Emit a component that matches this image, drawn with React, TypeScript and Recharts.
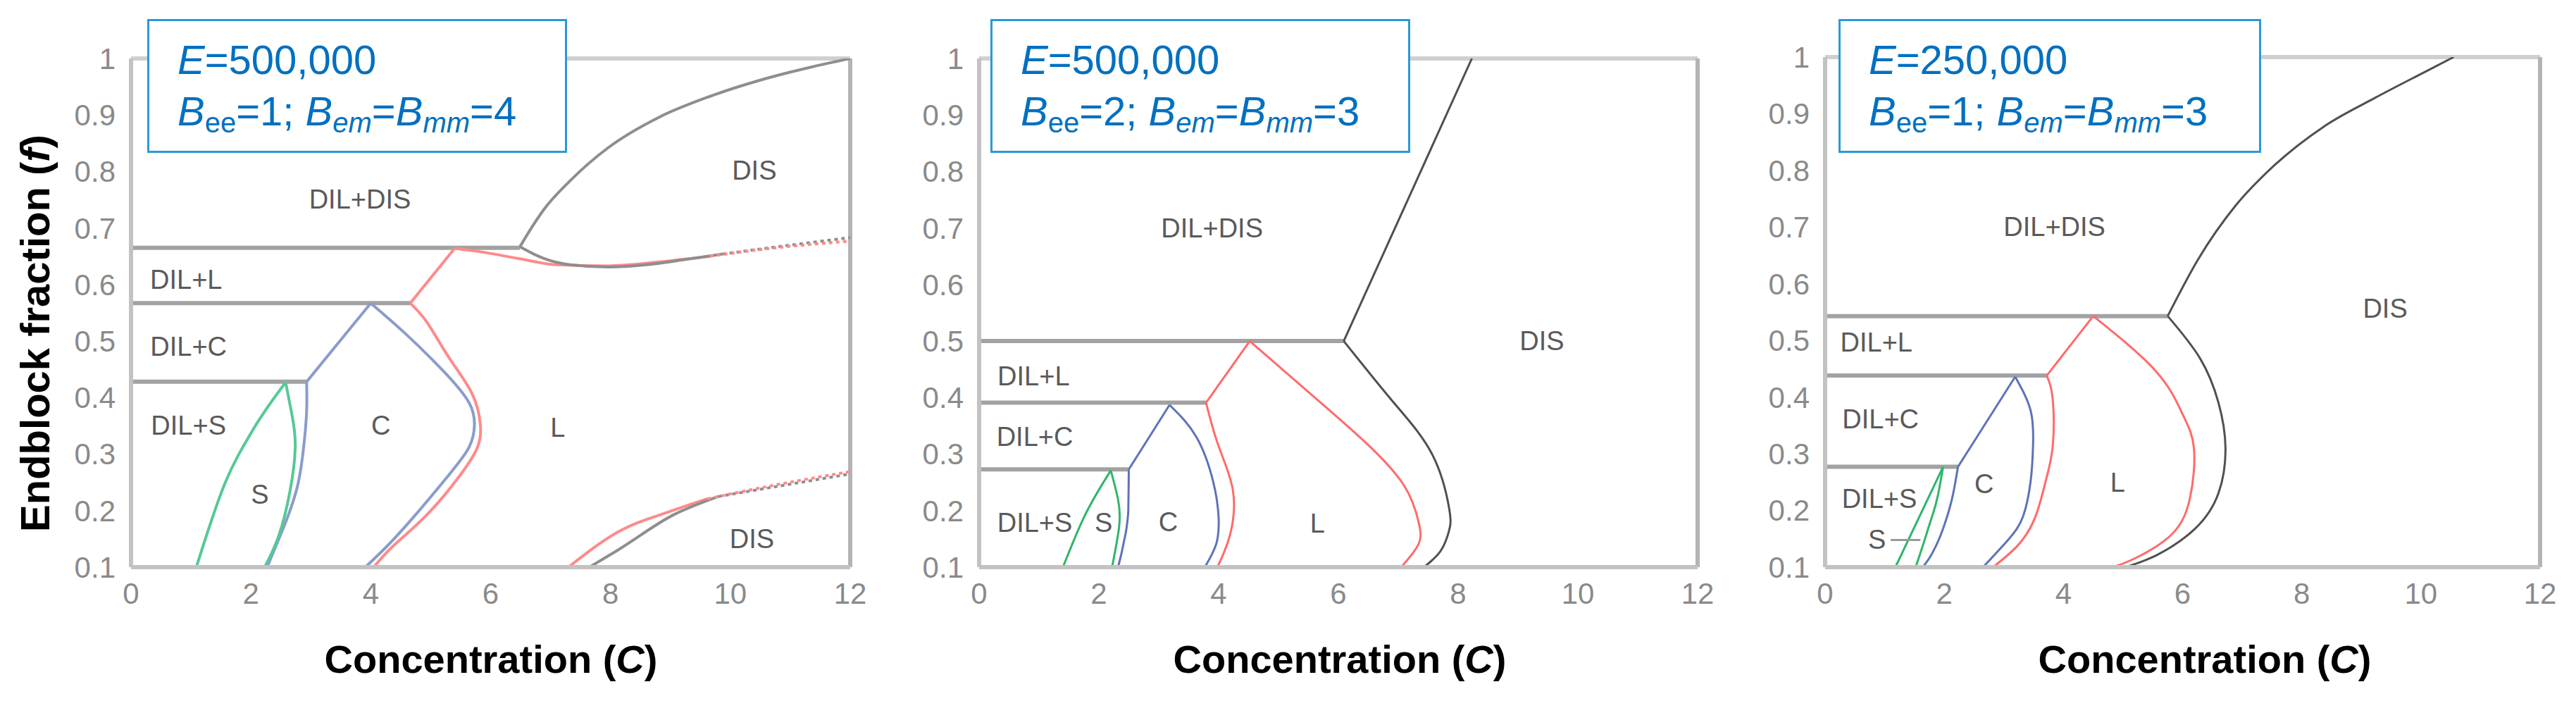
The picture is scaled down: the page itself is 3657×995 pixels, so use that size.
import { LineChart, Line, XAxis, YAxis, ReferenceDot, ReferenceLine } from 'recharts'

type Pt = { x: number; y: number }
const pts = (a: number[][]): Pt[] => a.map(([x, y]) => ({ x, y }))

const xTicks = [0, 2, 4, 6, 8, 10, 12]
const yTicks = [0.1, 0.2, 0.3, 0.4, 0.5, 0.6, 0.7, 0.8, 0.9, 1]

// panel 1: E=500,000, Bee=1, Bem=Bmm=4
const p1Tie = [
  pts([[0, 0.665], [6.49, 0.665]]),
  pts([[0, 0.567], [4.66, 0.567]]),
  pts([[0, 0.428], [2.93, 0.428]]),
]
const p1DisUpper = pts([[6.49, 0.667], [6.68, 0.7], [6.89, 0.733], [7.32, 0.783], [7.96, 0.842], [8.81, 0.896], [9.66, 0.933], [10.51, 0.962], [11.36, 0.985], [12, 1.0]])
const p1DisLower = pts([[6.49, 0.667], [6.89, 0.646], [7.32, 0.635], [7.96, 0.631], [8.6, 0.635], [9.23, 0.644], [9.87, 0.654]])
const p1DisLowerDot = pts([[9.87, 0.654], [10.94, 0.669], [12, 0.683]])
const p1RedKink = pts([[4.66, 0.567], [5.4, 0.664]])
const p1RedTop = pts([[5.4, 0.664], [5.83, 0.658], [6.47, 0.646], [7.1, 0.635], [7.96, 0.633], [8.81, 0.64], [9.66, 0.65]])
const p1RedTopDot = pts([[9.66, 0.65], [10.51, 0.662], [12, 0.677]])
const p1RedBulge = pts([[4.66, 0.567], [4.94, 0.533], [5.31, 0.47], [5.69, 0.407], [5.83, 0.351], [5.78, 0.312], [5.5, 0.264], [4.94, 0.193], [4.38, 0.138], [4.05, 0.1]])
const p1BlueKink = pts([[2.93, 0.428], [4.0, 0.567]])
const p1BlueRight = pts([[4.0, 0.567], [4.57, 0.514], [5.22, 0.446], [5.64, 0.391], [5.73, 0.351], [5.64, 0.312], [5.31, 0.264], [4.75, 0.193], [4.28, 0.138], [3.91, 0.1]])
const p1BlueLeft = pts([[2.93, 0.428], [2.93, 0.375], [2.88, 0.312], [2.79, 0.249], [2.6, 0.185], [2.27, 0.1]])
const p1GreenLeft = pts([[2.58, 0.427], [2.04, 0.344], [1.57, 0.249], [1.09, 0.1]])
const p1GreenRight = pts([[2.58, 0.427], [2.69, 0.367], [2.74, 0.312], [2.65, 0.233], [2.46, 0.154], [2.23, 0.1]])
const p1RedLow = pts([[7.3, 0.1], [8.12, 0.162], [9.06, 0.201], [9.62, 0.221]])
const p1RedLowDot = pts([[9.62, 0.221], [10.93, 0.249], [12, 0.269]])
const p1GrayLow = pts([[7.65, 0.1], [8.12, 0.13], [9.06, 0.193], [9.8, 0.225]])
const p1GrayLowDot = pts([[9.8, 0.225], [12, 0.265]])

// panel 2: E=500,000, Bee=2, Bem=Bmm=3
const p2Tie = [
  pts([[0, 0.5], [6.09, 0.5]]),
  pts([[0, 0.391], [3.79, 0.391]]),
  pts([[0, 0.273], [2.5, 0.273]]),
]
const p2BlackUp = pts([[6.09, 0.5], [8.23, 1.0]])
const p2BlackDown = pts([[6.09, 0.5], [6.91, 0.393], [7.57, 0.299], [7.85, 0.204], [7.85, 0.165], [7.71, 0.129], [7.43, 0.1]])
const p2RedKink = pts([[4.52, 0.5], [3.79, 0.391]])
const p2RedLeft = pts([[3.79, 0.391], [4.0, 0.314], [4.24, 0.235], [4.19, 0.157], [3.98, 0.1]])
const p2RedRight = pts([[4.52, 0.5], [5.51, 0.409], [6.44, 0.322], [7.1, 0.244], [7.34, 0.18], [7.34, 0.141], [7.05, 0.1]])
const p2BlueKink = pts([[3.18, 0.387], [2.5, 0.273]])
const p2BlueLeft = pts([[2.5, 0.273], [2.49, 0.196], [2.41, 0.141], [2.32, 0.1]])
const p2BlueRight = pts([[3.18, 0.387], [3.63, 0.33], [3.91, 0.251], [4.0, 0.188], [3.96, 0.141], [3.77, 0.1]])
const p2GreenLeft = pts([[2.2, 0.271], [1.75, 0.188], [1.4, 0.1]])
const p2GreenRight = pts([[2.2, 0.271], [2.32, 0.22], [2.34, 0.173], [2.22, 0.1]])

// panel 3: E=250,000, Bee=1, Bem=Bmm=3
const p3Tie = [
  pts([[0, 0.543], [5.75, 0.543]]),
  pts([[0, 0.438], [3.72, 0.438]]),
  pts([[0, 0.277], [2.23, 0.277]]),
]
const p3BlackUp = pts([[5.75, 0.543], [6.26, 0.643], [6.89, 0.738], [7.53, 0.808], [8.38, 0.878], [9.23, 0.928], [10.09, 0.975], [10.55, 1.0]])
const p3BlackDown = pts([[5.75, 0.543], [6.29, 0.469], [6.6, 0.391], [6.72, 0.31], [6.6, 0.23], [6.21, 0.168], [5.58, 0.122], [5.04, 0.1]])
const p3RedKink = pts([[4.5, 0.543], [3.72, 0.438]])
const p3RedLeft = pts([[3.72, 0.438], [3.82, 0.396], [3.82, 0.313], [3.7, 0.251], [3.53, 0.189], [3.24, 0.139], [2.82, 0.1]])
const p3RedRight = pts([[4.5, 0.543], [5.55, 0.446], [6.0, 0.37], [6.19, 0.31], [6.12, 0.22], [5.79, 0.155], [5.17, 0.114], [4.83, 0.1]])
const p3BlueKink = pts([[3.19, 0.436], [2.23, 0.277]])
const p3BlueLeft = pts([[2.23, 0.277], [2.15, 0.23], [1.98, 0.168], [1.79, 0.123], [1.64, 0.1]])
const p3BlueRight = pts([[3.19, 0.436], [3.45, 0.376], [3.49, 0.314], [3.45, 0.252], [3.32, 0.189], [3.07, 0.148], [2.65, 0.1]])
const p3GreenLeft = pts([[1.98, 0.277], [1.18, 0.1]])
const p3GreenRight = pts([[1.98, 0.277], [1.9, 0.23], [1.73, 0.168], [1.52, 0.1]])

type Lbl = { x: number; y: number; text: string }
const p1Labels: Lbl[] = [
  { x: 3.82, y: 0.751, text: 'DIL+DIS' }, { x: 10.4, y: 0.802, text: 'DIS' },
  { x: 0.92, y: 0.609, text: 'DIL+L' }, { x: 0.96, y: 0.49, text: 'DIL+C' },
  { x: 0.96, y: 0.35, text: 'DIL+S' }, { x: 4.17, y: 0.35, text: 'C' },
  { x: 7.12, y: 0.347, text: 'L' }, { x: 2.15, y: 0.229, text: 'S' },
  { x: 10.36, y: 0.15, text: 'DIS' },
]
const p2Labels: Lbl[] = [
  { x: 3.89, y: 0.7, text: 'DIL+DIS' }, { x: 9.4, y: 0.5, text: 'DIS' },
  { x: 0.91, y: 0.438, text: 'DIL+L' }, { x: 0.93, y: 0.33, text: 'DIL+C' },
  { x: 0.93, y: 0.179, text: 'DIL+S' }, { x: 2.08, y: 0.179, text: 'S' },
  { x: 3.16, y: 0.18, text: 'C' }, { x: 5.65, y: 0.177, text: 'L' },
]
const p3Labels: Lbl[] = [
  { x: 3.85, y: 0.701, text: 'DIL+DIS' }, { x: 9.4, y: 0.556, text: 'DIS' },
  { x: 0.86, y: 0.497, text: 'DIL+L' }, { x: 0.93, y: 0.361, text: 'DIL+C' },
  { x: 0.91, y: 0.22, text: 'DIL+S' }, { x: 0.87, y: 0.148, text: 'S' },
  { x: 2.67, y: 0.247, text: 'C' }, { x: 4.91, y: 0.249, text: 'L' },
]

type Curve = { data: Pt[]; color: string; w: number; dash?: string }
const tie = (d: Pt[]): Curve => ({ data: d, color: '#a2a2a2', w: 6 })

const c1 = { gray: '#8e8e8e', red: '#ff8a8a', blue: '#8a9ccc', green: '#55c995' }
const c2 = { gray: '#505050', red: '#ff6a6a', blue: '#5f72b8', green: '#2fb56a' }

const p1Curves: Curve[] = [
  ...p1Tie.map(tie),
  { data: p1DisUpper, color: c1.gray, w: 4 },
  { data: p1RedTop, color: c1.red, w: 4 },
  { data: p1DisLower, color: c1.gray, w: 4 },
  { data: p1DisLowerDot, color: c1.gray, w: 4, dash: '5 5' },
  { data: p1RedTopDot, color: c1.red, w: 4, dash: '5 5' },
  { data: p1RedKink, color: c1.red, w: 4 },
  { data: p1RedBulge, color: c1.red, w: 4 },
  { data: p1BlueKink, color: c1.blue, w: 4 },
  { data: p1BlueRight, color: c1.blue, w: 4 },
  { data: p1BlueLeft, color: c1.blue, w: 4 },
  { data: p1GreenLeft, color: c1.green, w: 4 },
  { data: p1GreenRight, color: c1.green, w: 4 },
  { data: p1RedLow, color: c1.red, w: 4 },
  { data: p1GrayLow, color: c1.gray, w: 4 },
  { data: p1GrayLowDot, color: c1.gray, w: 4, dash: '5 5' },
  { data: p1RedLowDot, color: c1.red, w: 4, dash: '5 5' },
]
const p2Curves: Curve[] = [
  ...p2Tie.map(tie),
  { data: p2BlackUp, color: c2.gray, w: 3 },
  { data: p2BlackDown, color: c2.gray, w: 3 },
  { data: p2RedKink, color: c2.red, w: 3 },
  { data: p2RedLeft, color: c2.red, w: 3 },
  { data: p2RedRight, color: c2.red, w: 3 },
  { data: p2BlueKink, color: c2.blue, w: 3 },
  { data: p2BlueLeft, color: c2.blue, w: 3 },
  { data: p2BlueRight, color: c2.blue, w: 3 },
  { data: p2GreenLeft, color: c2.green, w: 3 },
  { data: p2GreenRight, color: c2.green, w: 3 },
]
const p3Curves: Curve[] = [
  ...p3Tie.map(tie),
  { data: p3BlackUp, color: c2.gray, w: 3 },
  { data: p3BlackDown, color: c2.gray, w: 3 },
  { data: p3RedKink, color: c2.red, w: 3 },
  { data: p3RedLeft, color: c2.red, w: 3 },
  { data: p3RedRight, color: c2.red, w: 3 },
  { data: p3BlueKink, color: c2.blue, w: 3 },
  { data: p3BlueLeft, color: c2.blue, w: 3 },
  { data: p3BlueRight, color: c2.blue, w: 3 },
  { data: p3GreenLeft, color: c2.green, w: 3 },
  { data: p3GreenRight, color: c2.green, w: 3 },
]

const FONT = '"Liberation Sans", Arial, sans-serif'
const AXIS = '#c2c2c2'
const TICK = '#8a8a8a'
const YW = 130

// curves whose x only grows (or only shrinks) can use monotone interpolation, others go natural
const curveType = (d: Pt[]) => {
  if (d.length < 3) return 'linear'
  let up = true
  let down = true
  for (let i = 1; i < d.length; i++) {
    if (d[i].x <= d[i - 1].x) up = false
    if (d[i].x >= d[i - 1].x) down = false
  }
  return up || down ? 'monotoneX' : 'natural'
}

function ParamBox({ left, width, e, bee, bem }: { left: number; width: number; e: string; bee: string; bem: string }) {
  const sub = { fontSize: 40 }
  return (
    <svg style={{ position: 'absolute', left, top: 27 }} width={width} height={190}>
      <rect x={1.5} y={1.5} width={width - 3} height={187} fill="#fff" stroke="#2a9ad8" strokeWidth={3} />
      <text x={43} y={78} fill="#0070c0" fontFamily={FONT} fontSize={58}>
        <tspan fontStyle="italic">E</tspan>={e}
      </text>
      <text x={43} y={151} fill="#0070c0" fontFamily={FONT} fontSize={58}>
        <tspan fontStyle="italic">B</tspan>
        <tspan {...sub} dy={10}>ee</tspan>
        <tspan dy={-10}>={bee}; </tspan>
        <tspan fontStyle="italic">B</tspan>
        <tspan {...sub} dy={10} fontStyle="italic">em</tspan>
        <tspan dy={-10}>=</tspan>
        <tspan fontStyle="italic">B</tspan>
        <tspan {...sub} dy={10} fontStyle="italic">mm</tspan>
        <tspan dy={-10}>={bem}</tspan>
      </text>
    </svg>
  )
}

function Panel({ left, top, pw, curves, labels, arrow }: { left: number; top: number; pw: number; curves: Curve[]; labels: Lbl[]; arrow?: boolean }) {
  return (
    <div style={{ position: 'absolute', left: left - YW, top: 0 }}>
      <LineChart width={YW + pw + 60} height={805 + 70} margin={{ top, right: 60, bottom: 10, left: 0 }}>
        <XAxis type="number" dataKey="x" domain={[0, 12]} ticks={xTicks} allowDataOverflow height={60}
          tick={{ fill: TICK, fontSize: 42, fontFamily: FONT }} tickLine={false} tickSize={0} tickMargin={22}
          axisLine={{ stroke: AXIS, strokeWidth: 6 }} />
        <YAxis type="number" domain={[0.1, 1]} ticks={yTicks} allowDataOverflow width={YW}
          tick={{ fill: TICK, fontSize: 42, fontFamily: FONT }} tickLine={false} tickSize={0} tickMargin={22}
          tickFormatter={(v: number) => (v === 1 ? '1' : v.toFixed(1))}
          axisLine={{ stroke: AXIS, strokeWidth: 6 }} />
        <ReferenceLine y={1} stroke="#cfcfcf" strokeWidth={6} />
        <ReferenceLine x={12} stroke="#b4b4b4" strokeWidth={6} />
        {curves.map((c, i) => (
          <Line key={i} data={c.data} dataKey="y" type={curveType(c.data) as any} stroke={c.color}
            strokeWidth={c.w} strokeDasharray={c.dash} dot={false} activeDot={false} isAnimationActive={false} />
        ))}
        {arrow && (
          <ReferenceLine segment={[{ x: 1.1, y: 0.148 }, { x: 1.6, y: 0.148 }]} stroke="#9a9a9a" strokeWidth={3} />
        )}
        {labels.map((l, i) => (
          <ReferenceDot key={'l' + i} x={l.x} y={l.y} r={0}
            shape={(p: any) => (
              <text x={p.cx} y={p.cy} textAnchor="middle" dominantBaseline="central" fill="#5a5a5a"
                fontFamily={FONT} fontSize={38}>{l.text}</text>
            )} />
        ))}
      </LineChart>
    </div>
  )
}

function XTitle({ cx }: { cx: number }) {
  return (
    <div style={{ position: 'absolute', left: cx - 300, width: 600, top: 902, textAlign: 'center', fontFamily: FONT, fontWeight: 'bold', fontSize: 56, color: '#000', lineHeight: '68px' }}>
      Concentration (<i>C</i>)
    </div>
  )
}

export default function App() {
  return (
    <div style={{ position: 'absolute', left: 0, top: 0, width: 3657, height: 995, background: '#fff', overflow: 'hidden' }}>
      <Panel left={186} top={83} pw={1021} curves={p1Curves} labels={p1Labels} />
      <Panel left={1390} top={83} pw={1020} curves={p2Curves} labels={p2Labels} />
      <Panel left={2591} top={81} pw={1015} curves={p3Curves} labels={p3Labels} arrow />
      <ParamBox left={209} width={596} e="500,000" bee="1" bem="4" />
      <ParamBox left={1406} width={596} e="500,000" bee="2" bem="3" />
      <ParamBox left={2610} width={600} e="250,000" bee="1" bem="3" />
      <svg style={{ position: 'absolute', left: 0, top: 0 }} width={110} height={995}>
        <text transform="translate(49,473) rotate(-90)" textAnchor="middle" dominantBaseline="central"
          fontFamily={FONT} fontWeight="bold" fontSize={58} fill="#000">
          Endblock fraction (<tspan fontStyle="italic">f</tspan>)
        </text>
      </svg>
      <XTitle cx={697} />
      <XTitle cx={1902} />
      <XTitle cx={3130} />
    </div>
  )
}
